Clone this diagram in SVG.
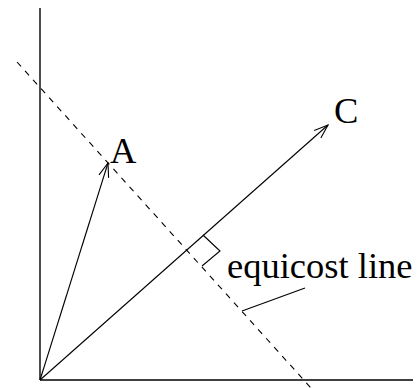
<svg xmlns="http://www.w3.org/2000/svg" width="417" height="388" viewBox="0 0 417 388">
<defs>
<style>
.ln{stroke:#000;stroke-width:1.1;fill:none}
.ax{stroke:#000;stroke-width:1.4;fill:none}
.dash{stroke:#000;stroke-width:1.1;fill:none;stroke-dasharray:6 6}
.lbl{font-family:"Liberation Serif",serif;font-size:36.5px;fill:#000}
</style>
<marker id="open" markerWidth="16" markerHeight="12" refX="15" refY="6" orient="auto" markerUnits="userSpaceOnUse">
<path d="M1,1 L15,6 L1,11" fill="none" stroke="#000" stroke-width="1.1"/>
</marker>
</defs>
<g id="connectors">
<line id="y-axis" class="ax" x1="40" y1="8" x2="40" y2="380"/>
<line id="x-axis" class="ax" x1="40" y1="380" x2="413" y2="380"/>
<line id="equicost" class="dash" x1="17" y1="62" x2="311" y2="388"/>
<line id="vecA" class="ln" x1="40" y1="380" x2="108" y2="163" marker-end="url(#open)"/>
<line id="vecC" class="ln" x1="40" y1="380" x2="328" y2="125" marker-end="url(#open)"/>
<polyline id="rightangle" class="ln" points="203,235 220,251 202,266"/>
<line id="leader" class="ln" x1="242" y1="311" x2="305" y2="288"/>
</g>
<g id="label-A"><text class="lbl" x="110" y="163">A</text></g>
<g id="label-C"><text class="lbl" x="334" y="123">C</text></g>
<g id="label-equicost"><text class="lbl" x="227" y="278">equicost line</text></g>
</svg>
